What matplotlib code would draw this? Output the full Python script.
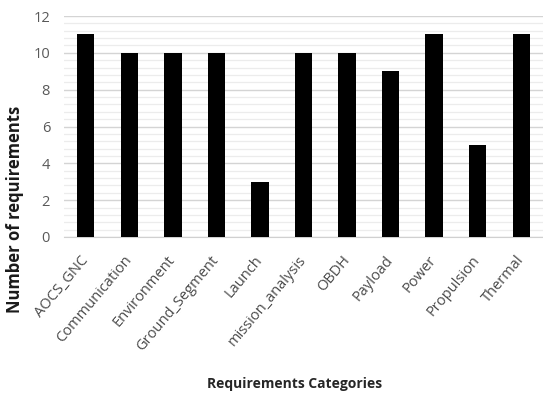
import matplotlib
matplotlib.use("Agg")
import matplotlib.pyplot as plt
from matplotlib.ticker import MultipleLocator

categories = ["AOCS_GNC", "Communication", "Environment", "Ground_Segment", "Launch",
              "mission_analysis", "OBDH", "Payload", "Power", "Propulsion", "Thermal"]
counts = [11, 10, 10, 10, 3, 10, 10, 9, 11, 5, 11]

plt.rcParams["font.family"] = ["Open Sans", "DejaVu Sans"]

W, H = 543, 395
fig = plt.figure(figsize=(W / 100, H / 100), dpi=100)
ax = fig.add_axes([64 / W, 1 - 237 / H, (543 - 64) / W, (237 - 16) / H])

x = list(range(len(categories)))
ax.bar(x, counts, width=0.4, color="black", zorder=3)

ax.set_xlim(-0.5, len(categories) - 0.5)
ax.set_ylim(0, 12)
ax.yaxis.set_major_locator(MultipleLocator(2))
ax.yaxis.set_minor_locator(MultipleLocator(0.4))
ax.grid(axis="y", which="major", color="#d4d4d4", linewidth=1.0, zorder=0)
ax.grid(axis="y", which="minor", color="#ececec", linewidth=0.9, zorder=0)
ax.set_axisbelow(True)

for s in ["top", "right", "left"]:
    ax.spines[s].set_visible(False)
ax.spines["bottom"].set_color("#d0d0d0")
ax.tick_params(axis="both", which="both", length=0)
ax.tick_params(axis="y", colors="#595959", labelsize=10.5, pad=10)

ax.set_xticks(x)
ax.set_xticklabels(categories, rotation=50, ha="right", rotation_mode="anchor",
                   va="center", fontsize=10.5, color="#4a4a4a")
ax.tick_params(axis="x", pad=15)

fig.text(15 / W, 1 - 209 / H, "Number of requirements", rotation=90, ha="center",
         va="center", fontsize=12, fontweight="bold", color="#1a1a1a")
fig.text(295 / W, 1 - 384 / H, "Requirements Categories", ha="center", va="center",
         fontsize=10, fontweight="bold", color="#262626")

fig.savefig("out.png", dpi=100)
